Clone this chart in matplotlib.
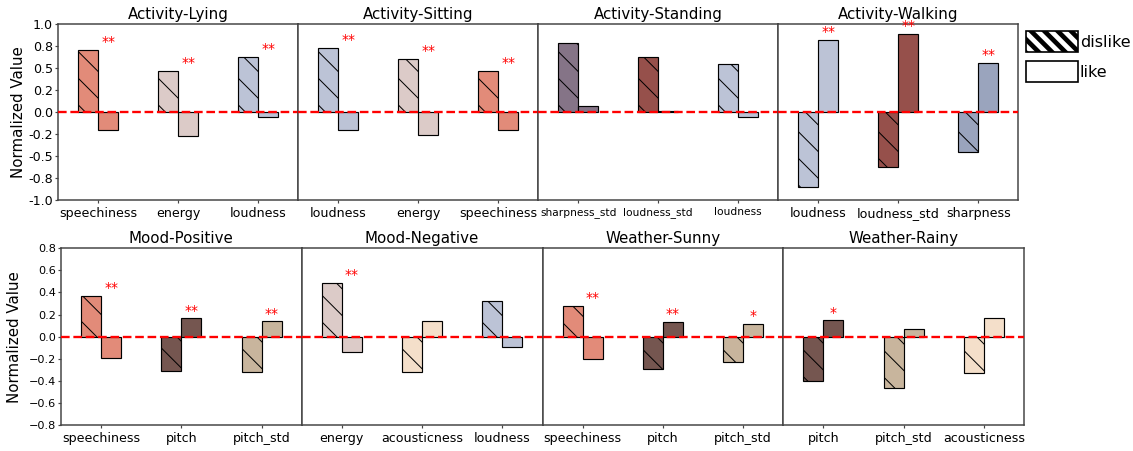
import numpy as np
import matplotlib
matplotlib.use('Agg')
import matplotlib.pyplot as plt
from matplotlib.patches import Patch
from matplotlib.ticker import FormatStrFormatter

# feature colours
feature_colors = {
    'speechiness': '#e28b79',
    'energy': '#dccbc8',
    'loudness': '#bcc3d6',
    'sharpness_std': '#857487',
    'loudness_std': '#96504b',
    'sharpness': '#9aa4bd',
    'pitch': '#755650',
    'pitch_std': '#c8b59d',
    'acousticness': '#f4dfca',
}

# top row: activity
titles_top = ['Activity-Lying', 'Activity-Sitting', 'Activity-Standing', 'Activity-Walking']
features_top = [
    ['speechiness', 'energy', 'loudness'],
    ['loudness', 'energy', 'speechiness'],
    ['sharpness_std', 'loudness_std', 'loudness'],
    ['loudness', 'loudness_std', 'sharpness'],
]
dislike_top = [
    [0.71, 0.47, 0.63],
    [0.727, 0.60, 0.466],
    [0.78, 0.625, 0.54],
    [-0.85, -0.62, -0.45],
]
like_top = [
    [-0.205, -0.27, -0.053],
    [-0.205, -0.26, -0.21],
    [0.07, 0.015, -0.06],
    [0.82, 0.886, 0.56],
]
stars_top = [
    ['**', '**', '**'],
    ['**', '**', '**'],
    ['', '', ''],
    ['**', '**', '**'],
]

# bottom row: mood / weather
titles_bot = ['Mood-Positive', 'Mood-Negative', 'Weather-Sunny', 'Weather-Rainy']
features_bot = [
    ['speechiness', 'pitch', 'pitch_std'],
    ['energy', 'acousticness', 'loudness'],
    ['speechiness', 'pitch', 'pitch_std'],
    ['pitch', 'pitch_std', 'acousticness'],
]
dislike_bot = [
    [0.367, -0.31, -0.32],
    [0.484, -0.32, 0.325],
    [0.28, -0.295, -0.23],
    [-0.40, -0.463, -0.325],
]
like_bot = [
    [-0.19, 0.165, 0.138],
    [-0.135, 0.138, -0.096],
    [-0.2, 0.135, 0.114],
    [0.147, 0.066, 0.168],
]
stars_bot = [
    ['**', '**', '**'],
    ['**', '', ''],
    ['**', '**', '*'],
    ['*', '', ''],
]

DPI = 240
W, H = 1133, 451
plt.rcParams['font.family'] = 'DejaVu Sans'
plt.rcParams['hatch.linewidth'] = 0.3

fig = plt.figure(figsize=(W / DPI, H / DPI), dpi=DPI)

bar_w = 0.25
spine_c = '#444444'


def draw_panel(ax, title, feats, dis, lik, stars, ylim, star_off, xfs):
    x = np.arange(len(feats))
    cols = [feature_colors[f] for f in feats]
    ax.bar(x - bar_w, dis, width=bar_w, align='edge', color=cols,
           edgecolor='black', linewidth=0.35, hatch='\\\\\\', zorder=2)
    ax.bar(x, lik, width=bar_w, align='edge', color=cols,
           edgecolor='black', linewidth=0.35, zorder=2)
    ax.axhline(0, color='red', linestyle='--', linewidth=0.7, zorder=3)
    for i, s in enumerate(stars):
        if s:
            top = max(dis[i], lik[i], 0)
            ax.text(x[i] + bar_w / 2, top + star_off, s, color='red',
                    fontsize=4.2, ha='center', va='center', zorder=4)
    ax.set_xlim(-0.5, 2.5)
    ax.set_ylim(*ylim)
    ax.set_xticks(x)
    ax.set_xticklabels(feats, fontsize=xfs)
    ax.set_title(title, fontsize=4.5, pad=1.5)
    ax.tick_params(axis='x', length=1.0, width=0.35, pad=1.0, color=spine_c)
    ax.tick_params(axis='y', length=1.0, width=0.35, pad=0.6, color=spine_c)
    for sp in ax.spines.values():
        sp.set_color(spine_c)
        sp.set_linewidth(0.45)


# top row axes
top_left, top_w = 58.3 / W, 240 / W
top_b, top_h = 1 - 200 / H, 176 / H
for k in range(4):
    ax = fig.add_axes([top_left + k * top_w, top_b, top_w, top_h])
    xfs = 3.2 if k == 2 else 3.8
    draw_panel(ax, titles_top[k], features_top[k], dislike_top[k], like_top[k],
               stars_top[k], (-1.0, 1.0), 0.09, xfs)
    ax.set_yticks(np.arange(-1.0, 1.01, 0.25))
    ax.yaxis.set_major_formatter(FormatStrFormatter('%.1f'))
    if k == 0:
        ax.tick_params(axis='y', labelsize=3.8)
        ax.set_ylabel('Normalized Value', fontsize=4.5)
        ax.yaxis.set_label_coords(-0.135, 0.5)
    else:
        ax.tick_params(axis='y', left=False, labelleft=False)
    if k == 3:
        # thicker hatch strokes for the legend swatch only
        plt.rcParams['hatch.linewidth'] = 1.4
        h_dis = Patch(facecolor='white', edgecolor='black', hatch='\\\\\\\\\\\\',
                      linewidth=0.5)
        h_like = Patch(facecolor='white', edgecolor='black', linewidth=0.5)
        ax.legend([h_dis, h_like], ['dislike', 'like'], loc='upper left',
                  bbox_to_anchor=(1.0, 1.0), frameon=False, fontsize=4.8,
                  handlelength=3.3, handleheight=1.6, labelspacing=0.6,
                  handletextpad=0.1, borderaxespad=0, borderpad=0.45)
        plt.rcParams['hatch.linewidth'] = 0.3

# bottom row axes
bot_left, bot_w = 61 / W, 240.75 / W
bot_b, bot_h = 1 - 425 / H, 176.7 / H
for k in range(4):
    ax = fig.add_axes([bot_left + k * bot_w, bot_b, bot_w, bot_h])
    draw_panel(ax, titles_bot[k], features_bot[k], dislike_bot[k], like_bot[k],
               stars_bot[k], (-0.8, 0.8), 0.07, 3.8)
    ax.set_yticks(np.arange(-0.8, 0.81, 0.2))
    if k == 0:
        ax.tick_params(axis='y', labelsize=3.4)
        ax.set_ylabel('Normalized Value', fontsize=4.5)
        ax.yaxis.set_label_coords(-0.162, 0.5)
    else:
        ax.tick_params(axis='y', left=False, labelleft=False)

fig.savefig('out.png', dpi=DPI)
